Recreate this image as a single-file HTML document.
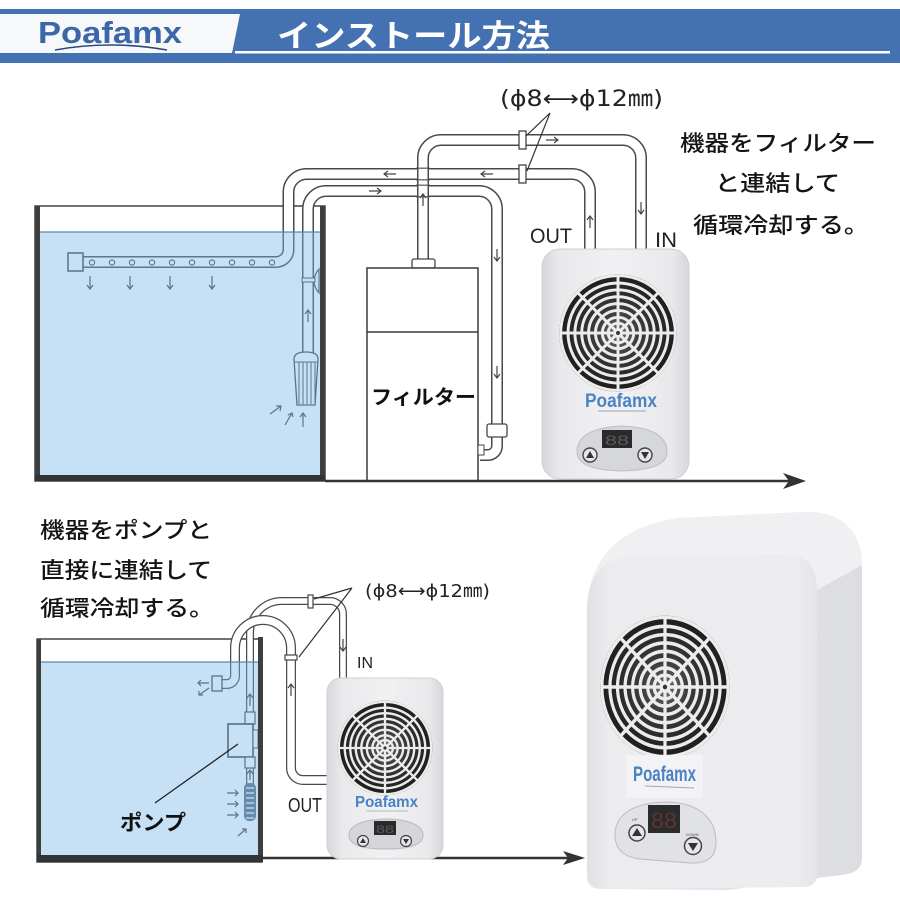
<!DOCTYPE html>
<html><head><meta charset="utf-8">
<style>
html,body{margin:0;padding:0;background:#fff;}
svg{display:block;}
</style></head><body>
<svg width="900" height="900" viewBox="0 0 900 900" xmlns="http://www.w3.org/2000/svg">
<defs>
 <radialGradient id="fanbg" cx="50%" cy="50%" r="50%">
  <stop offset="0" stop-color="#6d6d6d"/>
  <stop offset="0.35" stop-color="#3d3d3d"/>
  <stop offset="1" stop-color="#1c1c1c"/>
 </radialGradient>
 <linearGradient id="body" x1="0" x2="1" y1="0" y2="0">
  <stop offset="0" stop-color="#d6d7db"/>
  <stop offset="0.12" stop-color="#e9e9ec"/>
  <stop offset="0.5" stop-color="#f1f1f3"/>
  <stop offset="0.88" stop-color="#e9e9ec"/>
  <stop offset="1" stop-color="#d6d7db"/>
 </linearGradient>
 <linearGradient id="front" x1="0" x2="1" y1="0" y2="0">
  <stop offset="0" stop-color="#e0e1e4"/>
  <stop offset="0.1" stop-color="#ececef"/>
  <stop offset="0.9" stop-color="#ededf0"/>
  <stop offset="1" stop-color="#e4e5e8"/>
 </linearGradient>
 <linearGradient id="side" x1="0" x2="1" y1="0" y2="0">
  <stop offset="0" stop-color="#e7e8eb"/>
  <stop offset="1" stop-color="#dcdde1"/>
 </linearGradient>
 <g id="fan">
  <circle r="60" fill="url(#fanbg)"/>
  <g fill="none" stroke="#ececec" stroke-width="3">
   <circle r="58.5"/>
   <circle r="51"/><circle r="44"/><circle r="37"/><circle r="30"/><circle r="23"/><circle r="16"/><circle r="10"/>
   <path d="M-59 0H59M0 -59V59M-41.7 -41.7L41.7 41.7M-41.7 41.7L41.7 -41.7"/>
  </g>
  <circle r="5" fill="#eee"/><circle r="2" fill="#333"/>
 </g>
</defs>

<!-- HEADER -->
<rect x="0" y="9" width="900" height="54" fill="#4471b1"/>
<polygon points="0,14 240,14 232,53 0,53" fill="#f7f8fa"/>
<rect x="235" y="51" width="655" height="2.5" fill="#ffffff"/>
<text x="38" y="43" font-family="Liberation Sans, sans-serif" font-weight="700" font-size="31" fill="#3b66a7" textLength="144" lengthAdjust="spacingAndGlyphs">Poafamx</text>
<path d="M55 50 Q110 40 167 50" fill="none" stroke="#2c4a80" stroke-width="1.6"/>
<text x="277" y="47" font-family="Liberation Sans, 'Noto Sans CJK JP', sans-serif" font-weight="700" font-size="31" fill="#ffffff" textLength="273" lengthAdjust="spacingAndGlyphs">インストール方法</text>

<!-- ============ TOP DIAGRAM ============ -->
<rect x="35" y="206" width="290" height="275" fill="#fff" stroke="#444" stroke-width="1.5"/>

<!-- pipes -->
<g fill="none">
 <path d="M308 354 V209 A18 18 0 0 1 326 191 H479 A18 18 0 0 1 497 209 V426" stroke="#4a4a4a" stroke-width="12"/>
 <path d="M308 354 V209 A18 18 0 0 1 326 191 H479 A18 18 0 0 1 497 209 V426" stroke="#fff" stroke-width="9"/>
 <path d="M82 262 H276 A12.5 12.5 0 0 0 288.5 249.5 V192 A18 18 0 0 1 306.5 174 H572 A18 18 0 0 1 590 192 V252" stroke="#4a4a4a" stroke-width="12"/>
 <path d="M82 262 H276 A12.5 12.5 0 0 0 288.5 249.5 V192 A18 18 0 0 1 306.5 174 H572 A18 18 0 0 1 590 192 V252" stroke="#fff" stroke-width="9"/>
 <path d="M423 262 V158 A18 18 0 0 1 441 140 H623 A18 18 0 0 1 641 158 V252" stroke="#4a4a4a" stroke-width="12"/>
 <path d="M423 262 V158 A18 18 0 0 1 441 140 H623 A18 18 0 0 1 641 158 V252" stroke="#fff" stroke-width="9"/>
 <path d="M497 437 V446 A9 9 0 0 1 488 455 H480" stroke="#4a4a4a" stroke-width="12"/>
 <path d="M497 437 V446 A9 9 0 0 1 488 455 H480" stroke="#fff" stroke-width="9"/>
 <path d="M416 168.2H430M416 179.8H430M416 185.2H430M416 196.8H430" stroke="#4a4a4a" stroke-width="1.2"/>
</g>
<rect x="519" y="131" width="7" height="18" fill="#fff" stroke="#444" stroke-width="1.3"/>
<rect x="519" y="165" width="7" height="18" fill="#fff" stroke="#444" stroke-width="1.3"/>
<rect x="487" y="424" width="20" height="13" rx="2" fill="#fff" stroke="#444" stroke-width="1.3"/>
<rect x="412" y="259" width="23" height="9" rx="2" fill="#fff" stroke="#444" stroke-width="1.3"/>
<rect x="68" y="253" width="15" height="18" fill="#fff" stroke="#444" stroke-width="1.5"/>
<g fill="none" stroke="#444" stroke-width="1.1">
 <circle cx="92" cy="262.5" r="2.6"/><circle cx="112" cy="262.5" r="2.6"/><circle cx="132" cy="262.5" r="2.6"/><circle cx="152" cy="262.5" r="2.6"/><circle cx="172" cy="262.5" r="2.6"/><circle cx="192" cy="262.5" r="2.6"/><circle cx="212" cy="262.5" r="2.6"/><circle cx="232" cy="262.5" r="2.6"/><circle cx="252" cy="262.5" r="2.6"/><circle cx="272" cy="262.5" r="2.6"/>
</g>
<path d="M319 269 Q309 281 319 293 Z" fill="#fff" stroke="#444" stroke-width="1.2"/>
<rect x="302" y="278" width="13" height="4" fill="#fff" stroke="#444" stroke-width="1"/>
<path d="M294 359 Q294 352 306 352 Q318 352 318 359 L315 405 L297 405 Z" fill="#fff" stroke="#444" stroke-width="1.3"/>
<g stroke="#444" stroke-width="1">
 <path d="M295 362H317M299 362V404M303 362V404M307 362V404M311 362V404M315 362V404"/>
</g>
<g fill="none" stroke="#444" stroke-width="1.2">
 <path d="M90 276V289M87 285L90 289L93 285"/>
 <path d="M130 276V289M127 285L130 289L133 285"/>
 <path d="M170 276V289M167 285L170 289L173 285"/>
 <path d="M212 276V289M209 285L212 289L215 285"/>
 <path d="M270 414L281 406M276 406L281 406L280 411"/>
 <path d="M285 425L292 413M288 415L292 413L293 417"/>
 <path d="M303 427V413M300 417L303 413L306 417"/>
 <path d="M308 322V310M305 314L308 310L311 314"/>
 <path d="M384 174H396M388 171L384 174L388 177"/>
 <path d="M481 174H493M485 171L481 174L485 177"/>
 <path d="M369 191H381M377 188L381 191L377 194"/>
 <path d="M546 140H558M554 137L558 140L554 143"/>
 <path d="M423 206V194M420 198L423 194L426 198"/>
 <path d="M590 228V216M587 220L590 216L593 220"/>
 <path d="M641 202V214M638 210L641 214L644 210"/>
 <path d="M497 249V261M494 257L497 261L500 257"/>
 <path d="M497 366V378M494 374L497 378L500 374"/>
</g>
<rect x="40" y="232" width="280" height="243" fill="rgb(120,180,232)" fill-opacity="0.42"/>
<line x1="40" y1="232" x2="320" y2="232" stroke="#5d86aa" stroke-width="1.3"/>
<rect x="35" y="206" width="5" height="275" fill="#3e3e3e"/>
<rect x="320" y="206" width="5" height="275" fill="#3e3e3e"/>
<rect x="35" y="475" width="290" height="6" fill="#333"/>
<rect x="367" y="268" width="111" height="213" fill="#fff" stroke="#3a3a3a" stroke-width="1.5"/>
<line x1="367" y1="332" x2="478" y2="332" stroke="#3a3a3a" stroke-width="1.5"/>
<rect x="478" y="445" width="6" height="10" fill="#fff" stroke="#444" stroke-width="1"/>
<text x="371" y="404" font-family="Liberation Sans, 'Noto Sans CJK JP', sans-serif" font-weight="700" font-size="20" fill="#111" textLength="105" lengthAdjust="spacingAndGlyphs">フィルター</text>
<line x1="325" y1="481" x2="792" y2="481" stroke="#333" stroke-width="2.5"/>
<polygon points="806,481 783,473 789,481 783,489" fill="#333"/>

<text x="500" y="106" font-family="'DejaVu Sans', 'Noto Sans CJK JP', sans-serif" font-size="22" fill="#222" textLength="163" lengthAdjust="spacingAndGlyphs">(ϕ8⟷ϕ12㎜)</text>
<path d="M550 113L526 136M550 113L527 171" stroke="#333" stroke-width="1.2" fill="none"/>
<text x="530" y="243" font-family="Liberation Sans, sans-serif" font-size="21" fill="#222" textLength="42" lengthAdjust="spacingAndGlyphs">OUT</text>
<text x="655" y="247" font-family="Liberation Sans, sans-serif" font-size="21" fill="#222" textLength="22" lengthAdjust="spacingAndGlyphs">IN</text>

<g font-family="Liberation Sans, 'Noto Sans CJK JP', sans-serif" font-size="22" font-weight="500" fill="#141414">
 <text x="680" y="151" textLength="196" lengthAdjust="spacingAndGlyphs">機器をフィルター</text>
 <text x="715" y="191" textLength="125" lengthAdjust="spacingAndGlyphs">と連結して</text>
 <text x="693" y="233" textLength="176" lengthAdjust="spacingAndGlyphs">循環冷却する。</text>
</g>

<rect x="542" y="249" width="147" height="230" rx="18" fill="url(#body)" stroke="#cfd0d4" stroke-width="1"/>
<use href="#fan" transform="translate(618,333) scale(0.98)"/>
<text x="585" y="407" font-family="Liberation Sans, sans-serif" font-weight="700" font-size="19" fill="#4a82c4" textLength="72" lengthAdjust="spacingAndGlyphs">Poafamx</text>
<line x1="598" y1="411" x2="646" y2="411" stroke="#9aa8b8" stroke-width="1"/>
<path d="M577 452 Q577 428 622 426 Q667 428 667 452 Q667 470 622 471 Q577 470 577 452 Z" fill="#d5d7db" stroke="#bbbec3" stroke-width="1"/>
<rect x="602" y="430" width="30" height="18" fill="#2a2a2a"/>
<text x="605" y="445" font-family="Liberation Sans, sans-serif" font-size="14" fill="#5a5a5a" textLength="24" lengthAdjust="spacingAndGlyphs">88</text>
<circle cx="590" cy="455" r="7" fill="#e6e6e8" stroke="#444" stroke-width="1.4"/>
<polygon points="590,451 594,458 586,458" fill="#333"/>
<circle cx="645" cy="455" r="7" fill="#e6e6e8" stroke="#444" stroke-width="1.4"/>
<polygon points="645,459 649,452 641,452" fill="#333"/>

<!-- ============ BOTTOM DIAGRAM ============ -->
<g font-family="Liberation Sans, 'Noto Sans CJK JP', sans-serif" font-size="22" font-weight="500" fill="#141414">
 <text x="40" y="538" textLength="172" lengthAdjust="spacingAndGlyphs">機器をポンプと</text>
 <text x="40" y="578" textLength="172" lengthAdjust="spacingAndGlyphs">直接に連結して</text>
 <text x="40" y="616" textLength="174" lengthAdjust="spacingAndGlyphs">循環冷却する。</text>
</g>

<rect x="37" y="639" width="225" height="223" fill="#fff" stroke="#444" stroke-width="1.5"/>
<g fill="none">
 <path d="M250 712 V633 A32 32 0 0 1 282 601 H330 A13 13 0 0 1 343 614 V682" stroke="#4a4a4a" stroke-width="8"/>
 <path d="M250 712 V633 A32 32 0 0 1 282 601 H330 A13 13 0 0 1 343 614 V682" stroke="#fff" stroke-width="5.5"/>
 <path d="M214 684 H227 A8 8 0 0 0 235 676 V648 A28 28 0 0 1 291 648 V768 A12 12 0 0 0 303 780 H330" stroke="#4a4a4a" stroke-width="10"/>
 <path d="M214 684 H227 A8 8 0 0 0 235 676 V648 A28 28 0 0 1 291 648 V768 A12 12 0 0 0 303 780 H330" stroke="#fff" stroke-width="7.5"/>
 <path d="M250 768 V784" stroke="#4a4a4a" stroke-width="8"/>
 <path d="M250 768 V784" stroke="#fff" stroke-width="5.5"/>
</g>
<rect x="212" y="676" width="10" height="15" fill="#fff" stroke="#444" stroke-width="1.3"/>
<rect x="308" y="595" width="5" height="13" fill="#fff" stroke="#444" stroke-width="1.2"/>
<rect x="285" y="655" width="12" height="5" fill="#fff" stroke="#444" stroke-width="1.2"/>
<rect x="245" y="712" width="10" height="12" fill="#fff" stroke="#444" stroke-width="1.2"/>
<rect x="228" y="724" width="25" height="33" fill="#fff" stroke="#333" stroke-width="1.5"/>
<rect x="253" y="730" width="5" height="18" fill="#fff" stroke="#444" stroke-width="1"/>
<rect x="245" y="757" width="10" height="11" fill="#fff" stroke="#444" stroke-width="1.2"/>
<rect x="244" y="783" width="12" height="38" rx="5" fill="#5a6b7c"/>
<g stroke="#dfe8f0" stroke-width="1.4">
 <path d="M246 788H254M246 793H254M246 798H254M246 803H254M246 808H254M246 813H254M246 818H254"/>
</g>
<g fill="none" stroke="#444" stroke-width="1.2">
 <path d="M209 683H198M201 680L198 683L201 686"/>
 <path d="M209 688L199 695M199 691L199 695L203 695"/>
 <path d="M250 706V694M247 698L250 694L253 698"/>
 <path d="M250 780V770M247 774L250 770L253 774"/>
 <path d="M227 793H238M235 790L238 793L235 796"/>
 <path d="M227 804H238M235 801L238 804L235 807"/>
 <path d="M227 815H238M235 812L238 815L235 818"/>
 <path d="M238 836L246 829M242 829L246 829L246 833"/>
 <path d="M343 639V651M340 647L343 651L346 647"/>
 <path d="M291 696V684M288 688L291 684L294 688"/>
</g>
<rect x="41" y="662" width="217" height="193" fill="rgb(120,180,232)" fill-opacity="0.42"/>
<line x1="41" y1="662" x2="258" y2="662" stroke="#5d86aa" stroke-width="1.3"/>
<rect x="37" y="639" width="4" height="223" fill="#3e3e3e"/>
<rect x="258" y="637" width="5" height="225" fill="#3e3e3e"/>
<rect x="37" y="855" width="226" height="7" fill="#333"/>
<line x1="155" y1="803" x2="238" y2="744" stroke="#222" stroke-width="1.3"/>
<text x="120" y="830" font-family="Liberation Sans, 'Noto Sans CJK JP', sans-serif" font-weight="700" font-size="21" fill="#111" textLength="66" lengthAdjust="spacingAndGlyphs">ポンプ</text>

<line x1="262" y1="858" x2="572" y2="858" stroke="#333" stroke-width="2.5"/>
<polygon points="585,858 563,851 568,858 563,865" fill="#333"/>

<text x="365" y="597" font-family="'DejaVu Sans', 'Noto Sans CJK JP', sans-serif" font-size="18" fill="#222" textLength="125" lengthAdjust="spacingAndGlyphs">(ϕ8⟷ϕ12㎜)</text>
<path d="M352 588L314 599M352 588L299 657" stroke="#333" stroke-width="1.2" fill="none"/>
<text x="357" y="668" font-family="Liberation Sans, sans-serif" font-size="16" fill="#222" textLength="16" lengthAdjust="spacingAndGlyphs">IN</text>
<text x="288" y="812" font-family="Liberation Sans, sans-serif" font-size="20" fill="#222" textLength="34" lengthAdjust="spacingAndGlyphs">OUT</text>

<rect x="327" y="678" width="116" height="181" rx="14" fill="url(#body)" stroke="#cfd0d4" stroke-width="1"/>
<use href="#fan" transform="translate(385,748) scale(0.79)"/>
<text x="355" y="807" font-family="Liberation Sans, sans-serif" font-weight="700" font-size="16" fill="#4a82c4" textLength="63" lengthAdjust="spacingAndGlyphs">Poafamx</text>
<line x1="366" y1="811" x2="408" y2="811" stroke="#9aa8b8" stroke-width="0.8"/>
<path d="M349 835 C349 825 365 819 386 819 C407 819 423 825 423 835 C423 845 410 849 386 849 C362 849 349 845 349 835Z" fill="#d4d6da" stroke="#b8bbc0" stroke-width="1"/>
<rect x="374" y="821" width="22" height="14" fill="#2a2a2a"/>
<text x="376" y="833" font-family="Liberation Sans, sans-serif" font-size="11" fill="#5a5a5a" textLength="18" lengthAdjust="spacingAndGlyphs">88</text>
<circle cx="363" cy="841" r="5.5" fill="#e6e6e8" stroke="#444" stroke-width="1.2"/>
<polygon points="363,838 366,843 360,843" fill="#333"/>
<circle cx="406" cy="841" r="5.5" fill="#e6e6e8" stroke="#444" stroke-width="1.2"/>
<polygon points="406,844 409,839 403,839" fill="#333"/>

<!-- big chiller -->
<path d="M587 612 C587 560 620 525 680 518 L805 512 C840 511 862 530 862 565 L862 858 C862 868 856 872 848 874 L728 890 L600 889 C592 889 587 884 587 878 Z" fill="url(#side)"/>
<path d="M587 612 C587 560 620 525 680 518 L805 512 C840 511 862 530 862 565 L817 590 C817 566 806 554 785 554 L640 556 C600 557 587 578 587 612 Z" fill="#f0f0f2"/>
<path d="M587 612 C587 578 600 557 640 556 L785 554 C806 554 817 566 817 590 L817 876 C817 882 812 886 806 887 L606 889 C594 889 587 884 587 872 Z" fill="url(#front)"/>
<use href="#fan" transform="translate(665,687) scale(1.08,1.19)"/>
<rect x="626" y="755" width="77" height="43" fill="#f3f3f5"/>
<text x="633" y="781" font-family="Liberation Sans, sans-serif" font-weight="700" font-size="21" fill="#4a82c4" textLength="63" lengthAdjust="spacingAndGlyphs">Poafamx</text>
<line x1="645" y1="786" x2="694" y2="788" stroke="#9aa8b8" stroke-width="1"/>
<path d="M615 835 C615 815 632 803 665 802 C698 802 716 818 716 842 C716 858 706 864 690 863 L640 859 C623 857 615 849 615 835 Z" fill="#e1e2e5" stroke="#b9bcc1" stroke-width="1"/>
<rect x="648" y="805" width="32" height="28" fill="#2b2b2b"/>
<text x="651" y="828" font-family="Liberation Sans, sans-serif" font-size="22" fill="#5a3535" textLength="26" lengthAdjust="spacingAndGlyphs">88</text>
<text x="632" y="821" font-family="Liberation Sans, sans-serif" font-size="4" fill="#555">UP</text>
<text x="686" y="836" font-family="Liberation Sans, sans-serif" font-size="4" fill="#555">DOWN</text>
<circle cx="637" cy="833" r="8" fill="#e6e6e8" stroke="#444" stroke-width="1.5"/>
<polygon points="637,828 642,836 632,836" fill="#333"/>
<circle cx="693" cy="846" r="8.5" fill="#e6e6e8" stroke="#444" stroke-width="1.5"/>
<polygon points="693,851 698,843 688,843" fill="#333"/>
</svg>
</body></html>
